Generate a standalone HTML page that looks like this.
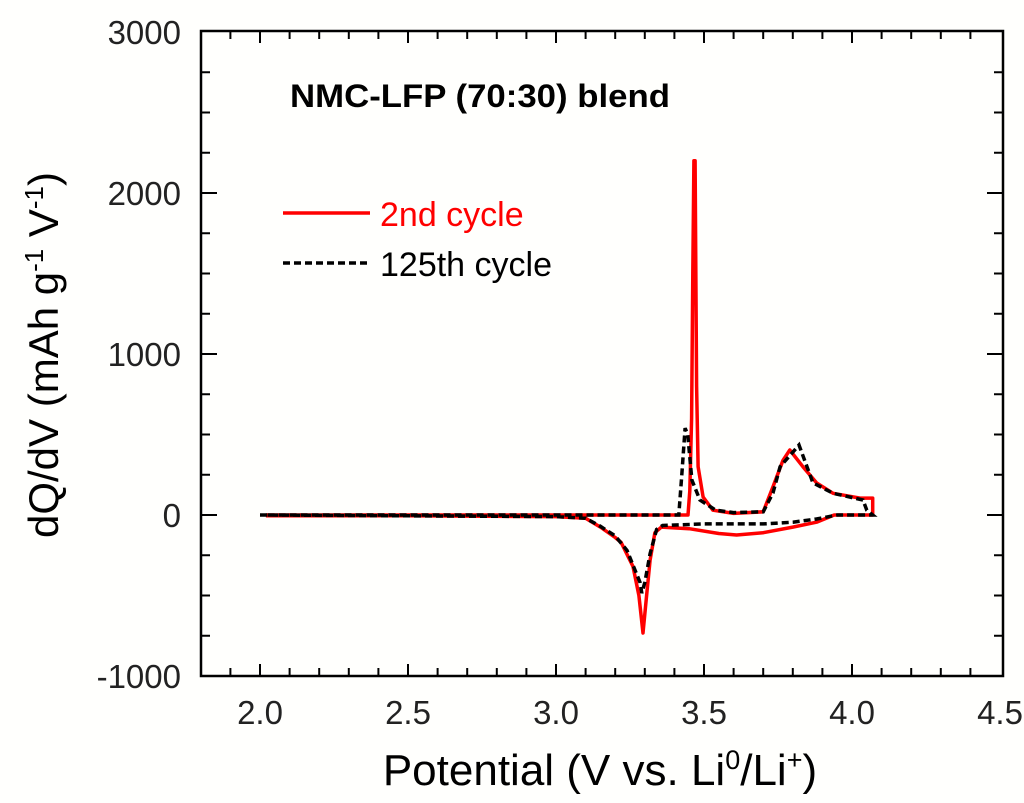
<!DOCTYPE html>
<html><head><meta charset="utf-8"><style>
body{margin:0;background:#fffffd;}
svg{display:block;font-family:"Liberation Sans",Arial,sans-serif;}
</style></head><body>
<svg id="chart" width="1024" height="803" viewBox="0 0 1024 803">
<rect width="1024" height="803" fill="#fffffd"/>
<g id="axes"></g>
<g id="series"></g>
<text x="290" y="107" font-size="32" font-weight="bold" fill="#000" textLength="380" lengthAdjust="spacingAndGlyphs">NMC-LFP (70:30) blend</text>
<g>
<line x1="283" y1="213" x2="370" y2="213" stroke="#f00" stroke-width="3.5"/>
<text x="380" y="226" font-size="34" fill="#f00">2nd cycle</text>
<line x1="283" y1="263" x2="370" y2="263" stroke="#000" stroke-width="3.5" stroke-dasharray="7,4"/>
<text x="380" y="276" font-size="34" fill="#000">125th cycle</text>
</g>
<text x="600" y="785" font-size="44" text-anchor="middle">Potential (V vs. Li<tspan dy="-16" font-size="27">0</tspan><tspan dy="16">/Li</tspan><tspan dy="-16" font-size="27">+</tspan><tspan dy="16">)</tspan></text>
<text transform="translate(58,355) rotate(-90)" font-size="42" text-anchor="middle">dQ/dV (mAh g<tspan dy="-15" font-size="26">-1</tspan><tspan dy="15"> V</tspan><tspan dy="-15" font-size="26">-1</tspan><tspan dy="15">)</tspan></text>
</svg>
<script>
const xTicks=["2.0","2.5","3.0","3.5","4.0","4.5"];
const yTicks=["-1000","0","1000","2000","3000"];
const cycle2V=[2.02,2.5,3.0,3.1,3.15,3.2,3.22,3.26,3.28,3.294,3.305,3.318,3.334,3.356,3.45,3.55,3.61,3.7,3.8,3.88,3.94,4.0,4.07,4.07,4.027,3.936,3.88,3.834,3.79,3.767,3.733,3.70,3.6,3.53,3.497,3.48,3.475,3.47,3.466,3.462,3.458,3.452,3.446,3.44,3.0,2.5,2.02];
const cycle2Y=[-5,-5,-10,-20,-75,-140,-170,-320,-500,-733,-520,-280,-110,-75,-85,-115,-124,-110,-75,-45,0,0,0,105,105,135,200,300,404,340,175,20,10,30,112,300,800,2200,2200,1500,600,150,0,0,0,0,0];
const cycle125V=[2.0,2.5,3.0,3.1,3.15,3.2,3.24,3.284,3.29,3.30,3.318,3.34,3.36,3.5,3.6,3.7,3.8,3.88,3.95,4.0,4.07,4.05,4.037,3.936,3.868,3.821,3.8,3.757,3.733,3.70,3.6,3.54,3.486,3.459,3.445,3.436,3.425,3.415,3.0,2.5,2.0];
const cycle125Y=[0,-5,-10,-20,-70,-130,-220,-420,-485,-420,-240,-90,-65,-55,-55,-55,-45,-25,0,0,0,30,93,135,200,435,390,300,137,20,15,30,93,217,500,540,250,0,0,0,0];
const X0=260,PXV=296,Y0=515,PXY=0.161;
const L=201,R=1003,T=31,B=676;
const sx=v=>X0+(v-2)*PXV, sy=q=>Y0-q*PXY;
const NS="http://www.w3.org/2000/svg";
const ax=document.getElementById('axes');
function mk(tag,attrs,parent){const e=document.createElementNS(NS,tag);for(const k in attrs)e.setAttribute(k,attrs[k]);parent.appendChild(e);return e;}
const frame=mk('rect',{x:L,y:T,width:R-L,height:B-T,fill:'none',stroke:'#000','stroke-width':2.5},ax);


for(let i=0;i<=26;i++){const v=1.8+i*0.1;const x=sx(v);if(x<L+1||x>R-1)continue;const major=Math.abs((v*2)-Math.round(v*2))<1e-6;const len=major?12:8;
 const t1=mk('line',{x1:x,y1:B,x2:x,y2:B-len,stroke:'#000','stroke-width':2},ax);
 
 
 const t2=mk('line',{x1:x,y1:T,x2:x,y2:T+len,stroke:'#000','stroke-width':2},ax);
 
 }
xTicks.forEach(s=>{const t=mk('text',{x:sx(parseFloat(s)),y:B+48,'font-size':33,'text-anchor':'middle','fill':'#222'},ax);t.textContent=s;
 
 });
for(let q=-1000;q<=3000;q+=250){const y=sy(q);const major=q%1000===0;const len=major?16:9;
 if(q>-1000&&q<3000){const t1=mk('line',{x1:L,y1:y,x2:L+len,y2:y,stroke:'#000','stroke-width':2},ax);
 
 
 const t2=mk('line',{x1:R,y1:y,x2:R-len,y2:y,stroke:'#000','stroke-width':2},ax);
 
 }}
yTicks.forEach(s=>{const t=mk('text',{x:181,y:sy(parseFloat(s))+12,'font-size':33,'text-anchor':'end','fill':'#222'},ax);t.textContent=s;
 
 });
const sg=document.getElementById('series');
function path(V,Y){return V.map((v,i)=>(i?'L':'M')+sx(v).toFixed(1)+','+sy(Y[i]).toFixed(1)).join(' ');}
const p1=mk('path',{d:path(cycle2V,cycle2Y),fill:'none',stroke:'#f00','stroke-width':3.5,'stroke-linejoin':'round'},sg);


const p2=mk('path',{d:path(cycle125V,cycle125Y),fill:'none',stroke:'#000','stroke-width':3.5,'stroke-dasharray':'7,4'},sg);


</script>
</body></html>
